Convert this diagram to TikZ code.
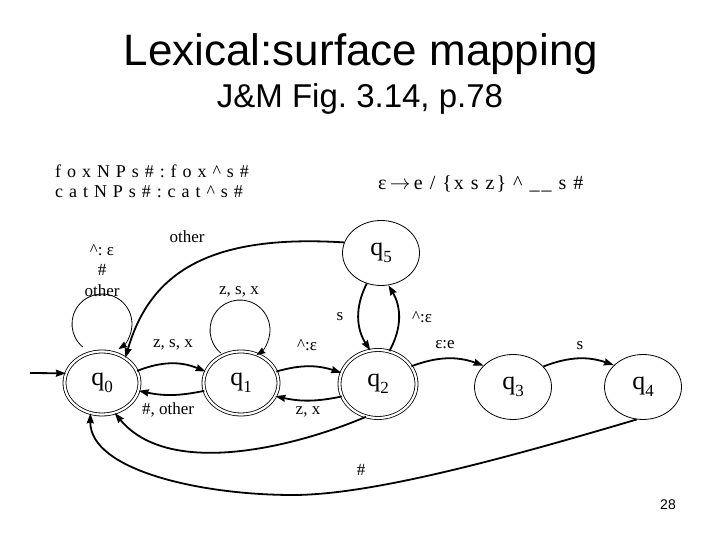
\documentclass[tikz,border=0pt]{standalone}
\usepackage{fontspec}
\setmainfont{Liberation Serif}
\newfontfamily\arialf{Liberation Sans}
\newfontfamily\spacedf[LetterSpace=33]{Liberation Serif}
\newfontfamily\rulef[LetterSpace=10]{Liberation Serif}
\usetikzlibrary{arrows.meta,calc,shapes.geometric}
\newcommand\mysubs[1]{\raisebox{-0.25em}{\fontsize{17bp}{17bp}\selectfont #1}}
\frenchspacing
\begin{document}
\begin{tikzpicture}[x=1bp,y=1bp,
  st/.style={ellipse,draw,line width=0.8bp,minimum width=77bp,minimum height=65bp,inner sep=0pt,font=\fontsize{26bp}{28bp}\selectfont},
  acc/.style={st,double,double distance=2.2bp,minimum width=75bp,minimum height=63bp},
  arr/.style={line width=1.8bp,-{Stealth[length=10bp,width=7bp,inset=1bp]}},
  lp/.style={line width=0.8bp,-{Stealth[length=9bp,width=6.5bp,inset=1bp]}},
  lab/.style={font=\fontsize{17bp}{19bp}\selectfont,inner sep=0pt}
]
\useasboundingbox (0,0) rectangle (720,540);

% titles
\node[font=\arialf\fontsize{44bp}{48bp}\selectfont,anchor=base,inner sep=0pt] (title) at (361,474) {Lexical:surface mapping};
\node[font=\arialf\fontsize{33bp}{36bp}\selectfont,anchor=base,inner sep=0pt] (subt) at (360,432) {J\&M Fig. 3.14, p.78};

\node[font=\spacedf\fontsize{18bp}{20bp}\selectfont,anchor=base west,inner sep=0pt] (ex1) at (55,362) {foxNPs\#:fox\textasciicircum s\#};
\node[font=\spacedf\fontsize{18bp}{20bp}\selectfont,anchor=base west,inner sep=0pt] (ex2) at (55,342) {catNPs\#:cat\textasciicircum s\#};
\node[font=\rulef\fontsize{20bp}{22bp}\selectfont,anchor=base west,inner sep=0pt] (rule) at (378,350) {ε\,$\rightarrow$\,e / \{x s z\} \textasciicircum{} \_\_ s \#};

\node[font=\arialf\fontsize{14bp}{16bp}\selectfont,anchor=base,inner sep=0pt] (pg) at (668,30) {28};

% states
\node[acc] (q0) at (102,157) {q\mysubs{0}};
\node[acc] (q1) at (241,157) {q\mysubs{1}};
\node[acc,minimum width=77bp,minimum height=68bp] (q2) at (378,156) {q\mysubs{2}};
\node[st] (q3) at (513,153) {q\mysubs{3}};
\node[st] (q4) at (643,153) {q\mysubs{4}};
\node[st] (q5) at (381,287) {q\mysubs{5}};

% start
\coordinate (start) at (30,167);
\draw[arr] (start) -- (q0.165);

% loops
\coordinate (l0) at (102,216);
\draw[lp] (l0) ++(230:30) arc[start angle=230,end angle=-57,radius=30];
\coordinate (l1) at (240,210);
\draw[lp] (l1) ++(230:30) arc[start angle=230,end angle=-57,radius=30];
\node[lab] (l0a) at (102,290) {\textasciicircum: ε};
\node[lab] (l0b) at (102,270) {\#};
\node[lab] (l0c) at (102,249) {other};
\node[lab] (l1a) at (239,248) {z, s, x};

% edges
\draw[arr] (q0.19) to[bend left=22] (q1.162);
\node[lab] (e01) at (173,195) {z, s, x};
\draw[arr] (q1.192) to[bend left=12] (q0.-12);
\node[lab] (e10) at (168,130) {\#, other};

\draw[arr] (q1.18) to[bend left=17] (q2.163);
\node[lab] (e12) at (307,195) {\textasciicircum:ε};
\draw[arr] (q2.199) to[bend left=12] (q1.-21);
\node[lab] (e21) at (308,128) {z, x};

\draw[arr] (q2.28) to[bend left=20] (q3.144);
\node[lab] (e23) at (445,195) {ε:e};
\draw[arr] (q3.34) to[bend left=20] (q4.143);
\node[lab] (e34) at (580,194) {s};

\draw[arr] (q5.245) to[bend right=30] (q2.103);
\node[lab] (e52) at (340,223) {s};
\draw[arr] (q2.71) to[bend right=30] (q5.283);
\node[lab] (e25) at (422,223) {\textasciicircum:ε};

\draw[arr] (q5.164) .. controls (210,306) and (150,268) .. (q0.47);
\node[lab] (e50) at (187,303) {other};

\draw[arr] (q2.250) .. controls (300,95) and (170,60) .. (q0.293);

\coordinate (low) at (293,45);
\draw[arr] (q4.259) .. controls (500,80) and (370,45) .. (low) .. controls (200,45) and (90,70) .. (q0.249);
\node[lab] (e40) at (361,70) {\#};
\end{tikzpicture}
\end{document}
